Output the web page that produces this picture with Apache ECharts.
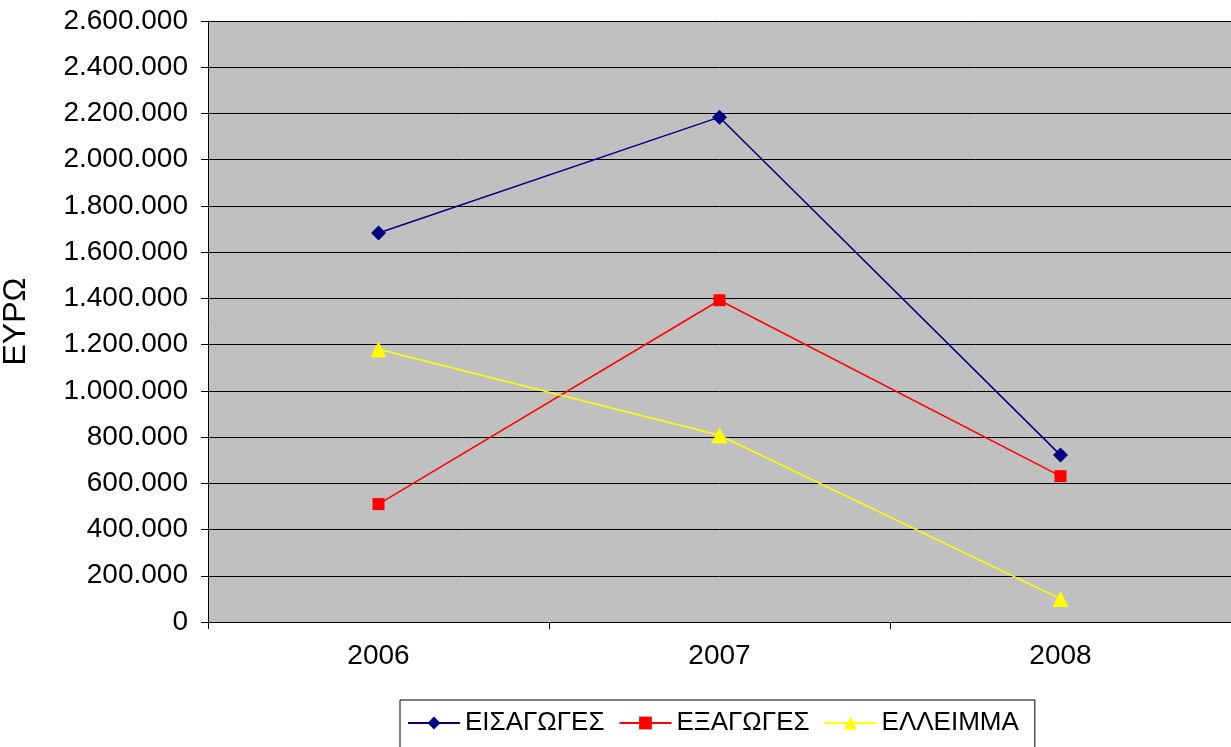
<!DOCTYPE html>
<html><head><meta charset="utf-8">
<script src="https://cdn.jsdelivr.net/npm/echarts@6/dist/echarts.min.js"></script>
<style>html,body{margin:0;padding:0;background:#fff}#c{width:1231px;height:747px}</style>
</head><body><div id="c"></div>
<script>
const categories = ['2006', '2007', '2008'];
const imports = [1683000, 2184000, 722000];
const exports = [510000, 1392000, 631000];
const deficit = [1180000, 808000, 100000];
const seriesNames = ['ΕΙΣΑΓΩΓΕΣ', 'ΕΞΑΓΩΓΕΣ', 'ΕΛΛΕΙΜΜΑ'];
const yAxisName = 'ΕΥΡΩ';

const font = 'Liberation Sans, Arial, sans-serif';
function fmt(v){ return String(v).replace(/\B(?=(\d{3})+(?!\d))/g, '.'); }

const chart = echarts.init(document.getElementById('c'), null, {renderer:'canvas'});
chart.setOption({
  animation: false,
  backgroundColor: '#ffffff',
  textStyle: {fontFamily: font},
  grid: {left: 208, top: 21, right: 0, bottom: 125, show: true, backgroundColor: '#c0c0c0', borderWidth: 0,
         containLabel: false, outerBoundsMode: 'none'},
  legend: {
    left: 400, top: 700,
    padding: [10, 16, 20, 7],
    borderColor: '#000', borderWidth: 1,
    itemWidth: 52, itemHeight: 16, itemGap: 14,
    textStyle: {fontSize: 26, color: '#000', fontFamily: font},
    data: seriesNames
  },
  xAxis: {
    type: 'category', data: categories, boundaryGap: true,
    axisLine: {lineStyle: {color: '#000', width: 1}},
    axisTick: {show: true, length: 7, inside: false, alignWithLabel: false, interval: 0, lineStyle: {color: '#000'}},
    axisLabel: {fontSize: 28, color: '#000', margin: 20, fontFamily: font},
    splitLine: {show: false}
  },
  yAxis: {
    type: 'value', min: 0, max: 2600000, interval: 200000,
    name: yAxisName, nameLocation: 'middle', nameGap: 176, nameRotate: 90,
    nameTextStyle: {fontSize: 32, color: '#000', fontFamily: font},
    axisLine: {show: true, lineStyle: {color: '#000', width: 1}},
    axisTick: {show: true, length: 7, lineStyle: {color: '#000'}},
    axisLabel: {fontSize: 28, color: '#000', margin: 20, formatter: fmt, fontFamily: font},
    splitLine: {show: true, lineStyle: {color: '#000', width: 1}}
  },
  series: [
    {name: seriesNames[0], type: 'line', data: imports, symbol: 'diamond', symbolSize: 15,
     itemStyle: {color: '#000080'}, lineStyle: {color: '#000080', width: 1.5}},
    {name: seriesNames[1], type: 'line', data: exports, symbol: 'rect', symbolSize: 12,
     itemStyle: {color: '#ff0000'}, lineStyle: {color: '#ff0000', width: 1.5}},
    {name: seriesNames[2], type: 'line', data: deficit, symbol: 'triangle', symbolSize: 16,
     itemStyle: {color: '#ffff00'}, lineStyle: {color: '#ffff00', width: 1.5}}
  ]
});
</script></body></html>
